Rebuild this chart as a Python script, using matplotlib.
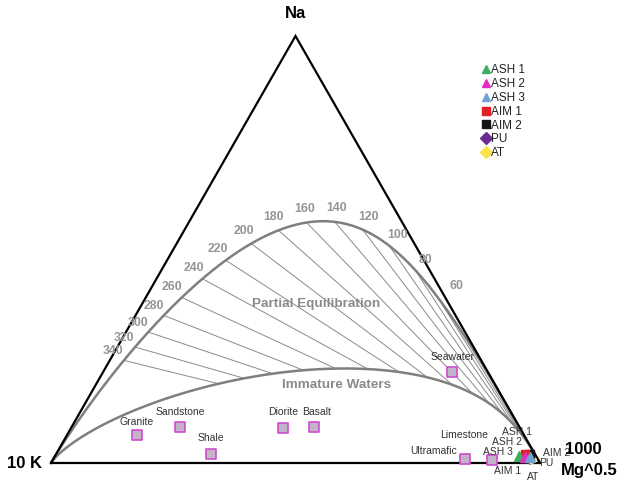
import numpy as np
import matplotlib
matplotlib.use("Agg")
import matplotlib.pyplot as plt

plt.rcParams["font.family"] = ["Liberation Sans", "DejaVu Sans"]

# Isotherm temperatures (deg C) marked on the full-equilibrium curve
isotherms = [60, 80, 100, 120, 140, 160, 180, 200, 220, 240, 260, 280, 300, 320, 340]

# Reference rock / water compositions: relative Na/1000, K/100 and Mg^0.5
rock_names = ["Granite", "Sandstone", "Shale", "Diorite", "Basalt",
              "Seawater", "Ultramafic", "Limestone"]
rock_na = [0.066, 0.084, 0.021, 0.082, 0.084, 0.213, 0.009, 0.007]
rock_k = [0.791, 0.694, 0.662, 0.485, 0.420, 0.073, 0.149, 0.095]
rock_mg = [0.143, 0.222, 0.317, 0.433, 0.496, 0.714, 0.842, 0.898]

# Sampled waters
sample_names = ["ASH 1", "ASH 2", "ASH 3", "AIM 1", "AIM 2", "PU", "AT"]
sample_na = [0.016, 0.014, 0.014, 0.021, 0.021, 0.009, 0.009]
sample_k = [0.035, 0.024, 0.013, 0.020, 0.010, 0.016, 0.014]
sample_mg = [0.949, 0.962, 0.973, 0.959, 0.969, 0.975, 0.977]

sample_style = {
    "ASH 1": dict(marker="^", color="#3DAE5E", size=7.5, z=8),
    "ASH 2": dict(marker="^", color="#E62BC4", size=7.5, z=8),
    "ASH 3": dict(marker="^", color="#6FA3D6", size=7.5, z=8),
    "AIM 1": dict(marker="s", color="#E41E26", size=6, z=7),
    "AIM 2": dict(marker="s", color="#151515", size=6, z=6.5),
    "PU": dict(marker="D", color="#6A2C91", size=5, z=6),
    "AT": dict(marker="D", color="#FFE14D", size=5, z=6),
}
# label offsets in pixels (dx, dy)
sample_label_offset = {
    "ASH 1": (-2, 24), "ASH 2": (-18, 15), "ASH 3": (-32, 5),
    "AIM 1": (-17, -17), "AIM 2": (27, 1), "PU": (16, -4), "AT": (2, -18),
}
rock_label_offset = {
    "Granite": (0, 13), "Sandstone": (0, 15), "Shale": (0, 16),
    "Diorite": (0, 16), "Basalt": (2, 15), "Seawater": (0, 15),
    "Ultramafic": (-31, 8), "Limestone": (-28, 25),
}

# Giggenbach (1988) geothermometers and maturity index of the immature boundary
NAK_A, NAK_B = 1390.0, 1.75
KMG_A, KMG_B = 14.0, 4410.0
MI_IMMATURE = 2.0


def to_xy(na, k, mg):
    na, k, mg = (np.asarray(v, dtype=float) for v in (na, k, mg))
    s = na + k + mg
    return (mg + na / 2.0) / s, na / s


def full_equilibrium(t):
    tk = np.asarray(t, dtype=float) + 273.15
    na_k = 10 ** (NAK_A / tk - NAK_B)
    k2_mg = 10 ** (KMG_A - KMG_B / tk)
    return to_xy(na_k / 1000.0, 0.01, 1.0 / np.sqrt(k2_mg))


def immature(log_na_k):
    log_na_k = np.asarray(log_na_k, dtype=float)
    k2_mg = 10 ** ((MI_IMMATURE - log_na_k) / 0.315)
    return to_xy(10 ** log_na_k / 1000.0, 0.01 + 0 * log_na_k, 1.0 / np.sqrt(k2_mg))


fig = plt.figure(figsize=(6.17, 4.84), dpi=100)
W, H = 617.0, 484.0
ax = fig.add_axes([51 / W, 21 / H, 489 / W, 427 / H])
ax.set_xlim(0, 1)
ax.set_ylim(0, 1)
ax.axis("off")

# triangle frame
ax.plot([0, 1, 0.5, 0], [0, 0, 1, 0], color="black", lw=1.6, zorder=3,
        solid_joinstyle="miter", clip_on=False)

# curves
t_full = np.concatenate([np.linspace(-30, 400, 600), np.linspace(400, 3000, 300)])
xf, yf = full_equilibrium(t_full)
ax.plot(xf, yf, color="#7F7F7F", lw=1.8, zorder=2, clip_on=False)
xi, yi = immature(np.linspace(-1.5, 4.5, 800))
ax.plot(xi, yi, color="#7F7F7F", lw=1.8, zorder=2, clip_on=False)

# isotherms between the two curves and their labels
for t in isotherms:
    x0, y0 = full_equilibrium(t)
    log_r = NAK_A / (t + 273.15) - NAK_B
    x1, y1 = immature(log_r)
    ax.plot([x0, x1], [y0, y1], color="#8A8A8A", lw=0.7, zorder=1)
    pa = ax.transData.transform(np.column_stack(full_equilibrium([t + 1, t - 1])))
    d = pa[1] - pa[0]
    n = np.array([-d[1], d[0]])
    if n[1] < 0:
        n = -n
    dist = 22 if t == 60 else 14
    n = n / np.hypot(*n) * dist
    ax.annotate(str(t), (x0, y0), xytext=(n[0], n[1]), textcoords="offset pixels",
                ha="center", va="center", fontsize=8.8, fontweight="bold",
                color="#959595", zorder=4)

ax.text(0.543, (463 - 304) / 427, "Partial Equilibration", ha="center", va="center",
        fontsize=9.7, fontweight="bold", color="#8A8A8A")
ax.text(0.583, (463 - 385) / 427, "Immature Waters", ha="center", va="center",
        fontsize=9.7, fontweight="bold", color="#8A8A8A")

# reference rocks
rx, ry = to_xy(rock_na, rock_k, rock_mg)
ax.scatter(rx, ry, marker="s", s=42, facecolor="#C2B4C6", edgecolor="#D04BD0",
           linewidths=1.2, zorder=5, clip_on=False)
for name, x, y in zip(rock_names, rx, ry):
    dx, dy = rock_label_offset[name]
    ax.annotate(name, (x, y), xytext=(dx, dy), textcoords="offset pixels",
                ha="center", va="center", fontsize=7.5, color="#333333")

# samples
sx, sy = to_xy(sample_na, sample_k, sample_mg)
for name, x, y in zip(sample_names, sx, sy):
    st = sample_style[name]
    ax.plot([x], [y], linestyle="none", marker=st["marker"], markersize=st["size"],
            color=st["color"], markeredgecolor=st["color"], zorder=st["z"],
            clip_on=False, label=name)
    dx, dy = sample_label_offset[name]
    ax.annotate(name, (x, y), xytext=(dx, dy), textcoords="offset pixels",
                ha="center", va="center", fontsize=7.5, color="#333333", zorder=9)

handles, labels = ax.get_legend_handles_labels()
leg = ax.legend(handles, labels, loc="upper left", bbox_to_anchor=(482 / W, 1 - 64 / H),
                bbox_transform=fig.transFigure, frameon=False, fontsize=8.5,
                handlelength=0.6, handletextpad=0.15, labelspacing=0.16,
                borderpad=0, borderaxespad=0)
for txt in leg.get_texts():
    txt.set_color("#222222")
for h in leg.legend_handles:
    h.set_markersize(6)

# corner labels
ax.text(0.5, (463 - 14) / 427, "Na", ha="center", va="center", fontsize=12,
        fontweight="bold", clip_on=False)
ax.text(-0.018, 0.0, "10 K", ha="right", va="center", fontsize=12,
        fontweight="bold", clip_on=False)
ax.text((583 - 51) / 489, (463 - 450) / 427, "1000", ha="center", va="center",
        fontsize=12, fontweight="bold", clip_on=False, zorder=10)
ax.text((589 - 51) / 489, (463 - 470) / 427, "Mg^0.5", ha="center", va="center",
        fontsize=12, fontweight="bold", clip_on=False)

fig.savefig("out.png", dpi=100)
